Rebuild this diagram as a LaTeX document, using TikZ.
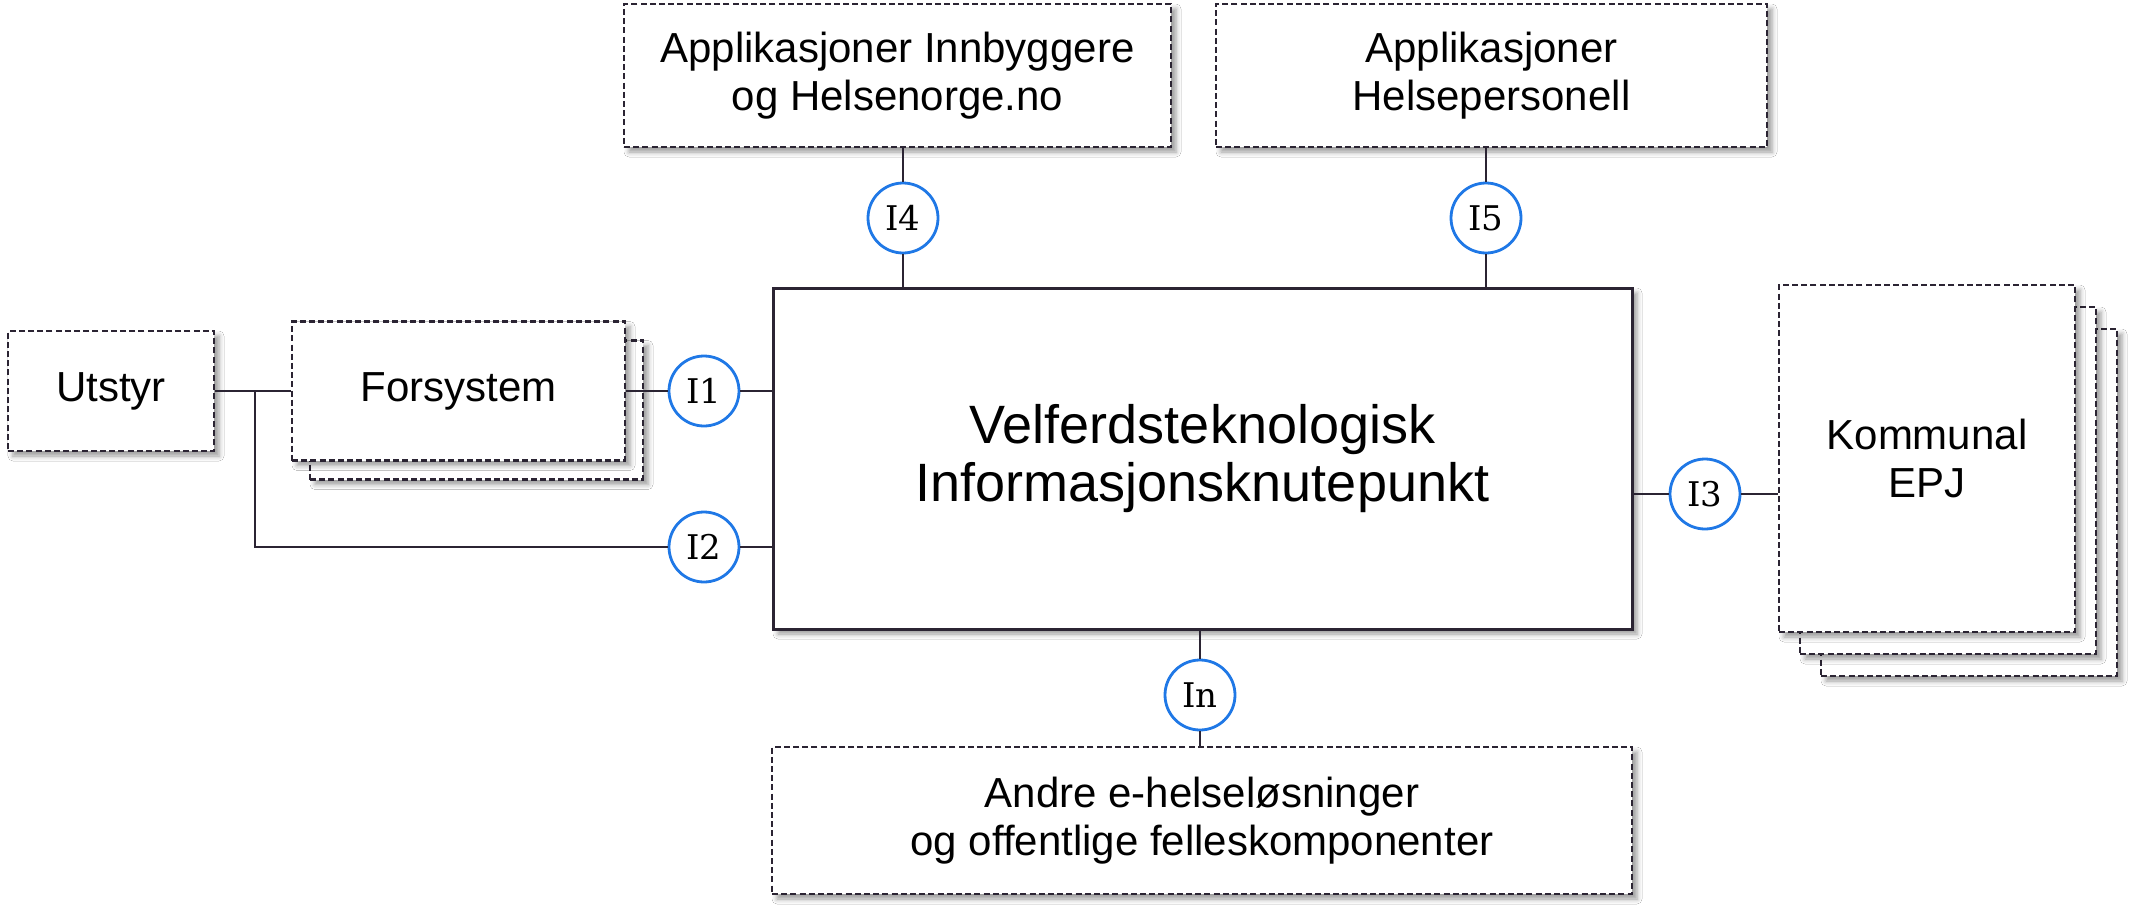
\documentclass[tikz,border=0pt]{standalone}
\usepackage{fontspec}
\setmainfont{Liberation Sans}
\newfontfamily\portfont{DejaVu Serif}
\usetikzlibrary{positioning, calc, shadows.blur}
\definecolor{knInk}{HTML}{2B2433}
\definecolor{knBlue}{HTML}{1F78E6}

\begin{document}
\begin{tikzpicture}[
  x=0.5pt, y=-0.5pt,
  softshadow/.style={blur shadow={shadow xshift=2.5pt, shadow yshift=-2.5pt,
                     shadow blur radius=2.5pt, shadow opacity=40}},
  dbox/.style={draw=knInk, line width=1.1pt, dash pattern=on 3pt off 1.6pt, fill=white,
               align=center, font=\fontsize{21}{24}\selectfont, inner sep=0pt, softshadow},
  mainbox/.style={draw=knInk, line width=1.5pt, fill=white, align=center,
                  font=\fontsize{27}{29}\selectfont, minimum width=429.5pt,
                  minimum height=170.5pt, softshadow},
  port/.style={circle, draw=knBlue, line width=1.4pt, fill=white, minimum size=35pt,
               inner sep=0pt, font=\portfont\fontsize{17}{17}\selectfont},
  link/.style={draw=knInk, line width=1.3pt}
]
\useasboundingbox[fill=white] (0,0) rectangle (2138,921);

% knutepunkt og omliggende systemer
\node[mainbox] (hub) at (1202.5,458.5) {Velferdsteknologisk\\Informasjonsknutepunkt};
\node[dbox, minimum width=273.5pt, minimum height=71.5pt] (innb) at (897.5,75.5) {Applikasjoner Innbyggere\\og Helsenorge.no};
\node[dbox, minimum width=275.5pt, minimum height=71.5pt] (helse) at (1491.5,75.5) {Applikasjoner\\Helsepersonell};
\node[dbox, minimum width=430pt, minimum height=73.5pt] (andre) at (1202,820.5) {Andre e-helseløsninger\\og offentlige felleskomponenter};
\node[dbox, minimum width=103pt, minimum height=60pt] (utstyr) at (111,391) {Utstyr};

% stablede bokser
\node[dbox, minimum width=166.5pt, minimum height=69.5pt] (forsysB) at (476.5,410) {};
\node[dbox, minimum width=166.5pt, minimum height=69.5pt] (forsys) at (458.5,391) {Forsystem};
\foreach \k in {2,1}
  \node[dbox, minimum width=148pt, minimum height=173.5pt] (epj\k) at ({1927+21*\k},{458.5+22*\k}) {};
\node[dbox, minimum width=148pt, minimum height=173.5pt] (epj) at (1927,458.5) {Kommunal\\EPJ};

% grensesnitt
\node[port] (i1) at (704,391) {I1};
\node[port] (i2) at (704,547) {I2};
\node[port] (i3) at (1705,494) {I3};
\node[port] (i4) at (903,218) {I4};
\node[port] (i5) at (1486,218) {I5};
\node[port] (iN) at (1200,695) {In};

\coordinate (split) at (255,391);
\draw[link] (utstyr.east) -- (forsys.west);
\draw[link] (split) |- (i2.west);
\draw[link] (i2.east) -- (i2.east -| hub.west);
\draw[link] (forsys.east) -- (i1.west);
\draw[link] (i1.east) -- (i1.east -| hub.west);
\draw[link] (i3.west -| hub.east) -- (i3.west);
\draw[link] (i3.east) -- (i3.east -| epj.west);
\draw[link] (i4.north) -- (i4.north |- innb.south);
\draw[link] (i4.south) -- (i4.south |- hub.north);
\draw[link] (i5.north) -- (i5.north |- helse.south);
\draw[link] (i5.south) -- (i5.south |- hub.north);
\draw[link] (iN.north) -- (iN.north |- hub.south);
\draw[link] (iN.south) -- (iN.south |- andre.north);
\end{tikzpicture}
\end{document}
